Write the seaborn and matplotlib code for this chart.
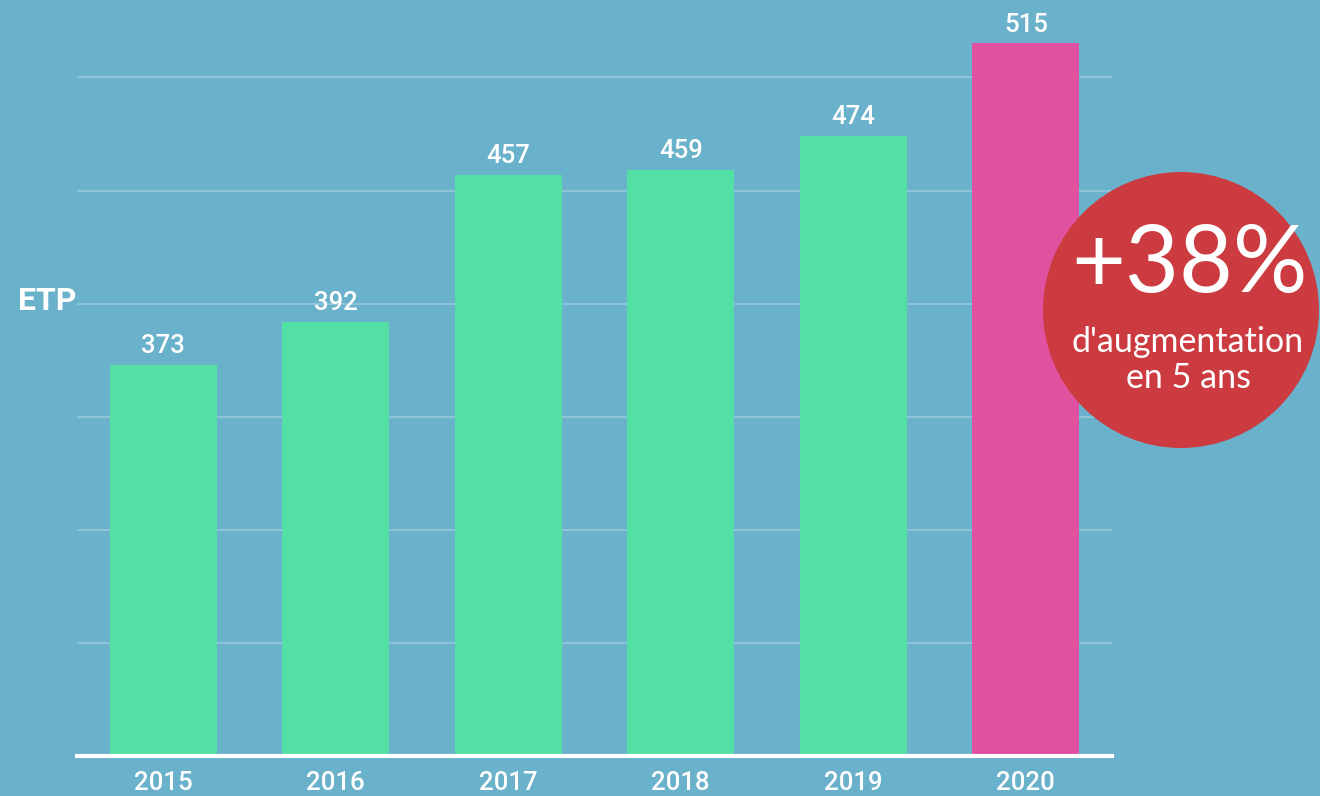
import matplotlib
matplotlib.use("Agg")
import matplotlib.pyplot as plt
from matplotlib.patches import Ellipse
import seaborn as sns
import pandas as pd

years = ["2015", "2016", "2017", "2018", "2019", "2020"]
values = [373, 392, 457, 459, 474, 515]
bar_colors = ["#53E0A5", "#53E0A5", "#53E0A5", "#53E0A5", "#53E0A5", "#E0529F"]
y_label = "ETP"
badge_big = "+38%"
badge_small = "d'augmentation\nen 5 ans"

BG = "#6AB1CB"
sns.set_theme(style="white")
plt.rcParams["font.family"] = ["Roboto", "DejaVu Sans"]

W, H = 1320, 796
fig = plt.figure(figsize=(W / 100, H / 100), dpi=100, facecolor=BG)
ax = fig.add_axes([77 / W, 40 / H, (1112 - 77) / W, 756 / H])
ax.set_facecolor(BG)

df = pd.DataFrame({"year": years, "value": values})
sns.barplot(data=df, x="year", y="value", hue="year", palette=bar_colors,
            legend=False, width=0.62, ax=ax, saturation=1, zorder=3,
            linewidth=0, edgecolor="none")

ax.set_ylim(200, 200 + 756 / 2.262)
ax.set_xlim(-0.5, 5.5)
ax.set_yticks([250, 300, 350, 400, 450, 500])
ax.yaxis.grid(True, color="white", alpha=0.3, linewidth=1.2, zorder=0)
ax.set_axisbelow(True)
ax.tick_params(axis="y", left=False, labelleft=False)
ax.tick_params(axis="x", bottom=False, colors="white", labelsize=18.5, pad=11,
               length=0)
for lab in ax.get_xticklabels():
    lab.set_fontweight("medium")
ax.set_xlabel("")
ax.set_ylabel("")
for s in ["top", "right", "left"]:
    ax.spines[s].set_visible(False)
ax.spines["bottom"].set_color("white")
ax.spines["bottom"].set_linewidth(3)
ax.spines["bottom"].set_zorder(5)

for i, v in enumerate(values):
    ax.annotate(str(v), (i, v), xytext=(0, 5), textcoords="offset points",
                ha="center", va="bottom", color="white", fontsize=18.5,
                fontweight="medium")

fig.text(18 / W, 1 - 301 / H, y_label, ha="left", va="center", color="white",
         fontsize=23, fontweight="bold")

cx, cy, r = 1181, 310, 138
fig.add_artist(Ellipse((cx / W, 1 - cy / H), 2 * r / W, 2 * r / H,
                       transform=fig.transFigure, facecolor="#CC3B40",
                       edgecolor="none", zorder=10))
fig.text(1189 / W, 1 - 266 / H, badge_big, ha="center", va="center",
         color="white", fontsize=67, family=["Lato", "DejaVu Sans"], zorder=11)
fig.text(1188 / W, 1 - 360 / H, badge_small, ha="center", va="center",
         color="white", fontsize=24.5, family=["Lato", "DejaVu Sans"],
         linespacing=1.12, zorder=11)

fig.savefig("out.png", dpi=100, facecolor=BG)
